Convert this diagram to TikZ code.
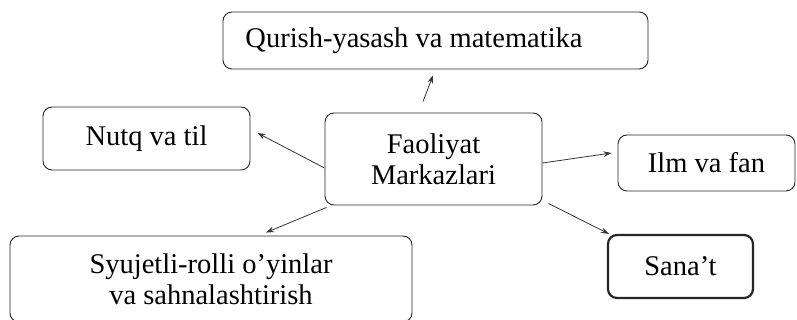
\documentclass[tikz,border=0pt]{standalone}
\usepackage{fontspec}
\setmainfont{Liberation Serif}
\usetikzlibrary{arrows.meta}
\begin{document}
\begin{tikzpicture}[x=1pt,y=1pt,
  box/.style={draw=black!85, line width=0.9pt, rounded corners=9pt, inner sep=0pt, align=center,
    font=\fontsize{28.5}{31}\selectfont},
  arr/.style={draw=black!80, line width=0.8pt, -{Stealth[length=8pt,width=5.5pt]}}]
\useasboundingbox (0,0) rectangle (797,320);
\node[box, minimum width=425pt, minimum height=57pt] (top) at (435.5,279.5) {Qurish-yasash va matematika\hspace*{43pt}};
\node[box, minimum width=207pt, minimum height=63pt] (nutq) at (146.5,181.5) {Nutq va til};
\node[box, minimum width=217pt, minimum height=92pt] (c) at (433.5,161) {Faoliyat\\Markazlari};
\node[box, minimum width=177pt, minimum height=56pt] (ilm) at (706.5,157) {Ilm va fan};
\node[box, minimum width=402pt, minimum height=86pt] (syu) at (211,41) {Syujetli-rolli o’yinlar\\va sahnalashtirish};
\node[box, line width=2.2pt, minimum width=145pt, minimum height=63pt] (sana) at (680.5,53.5) {Sana’t};
\draw[arr] ([shift={(-10.5,11)}]c.north) -- ([shift={(-2.5,-6)}]top.south);
\draw[arr] ([shift={(0,-9)}]c.west) -- ([shift={(7,5.5)}]nutq.east);
\draw[arr] ([shift={(0,-4)}]c.east) -- ([shift={(-6,10)}]ilm.west);
\draw[arr] ([shift={(6,2)}]c.south east) -- ([shift={(2,0)}]sana.north west);
\draw[arr] ([shift={(2,-2)}]c.south west) -- ([shift={(55,3)}]syu.north);
\end{tikzpicture}
\end{document}
